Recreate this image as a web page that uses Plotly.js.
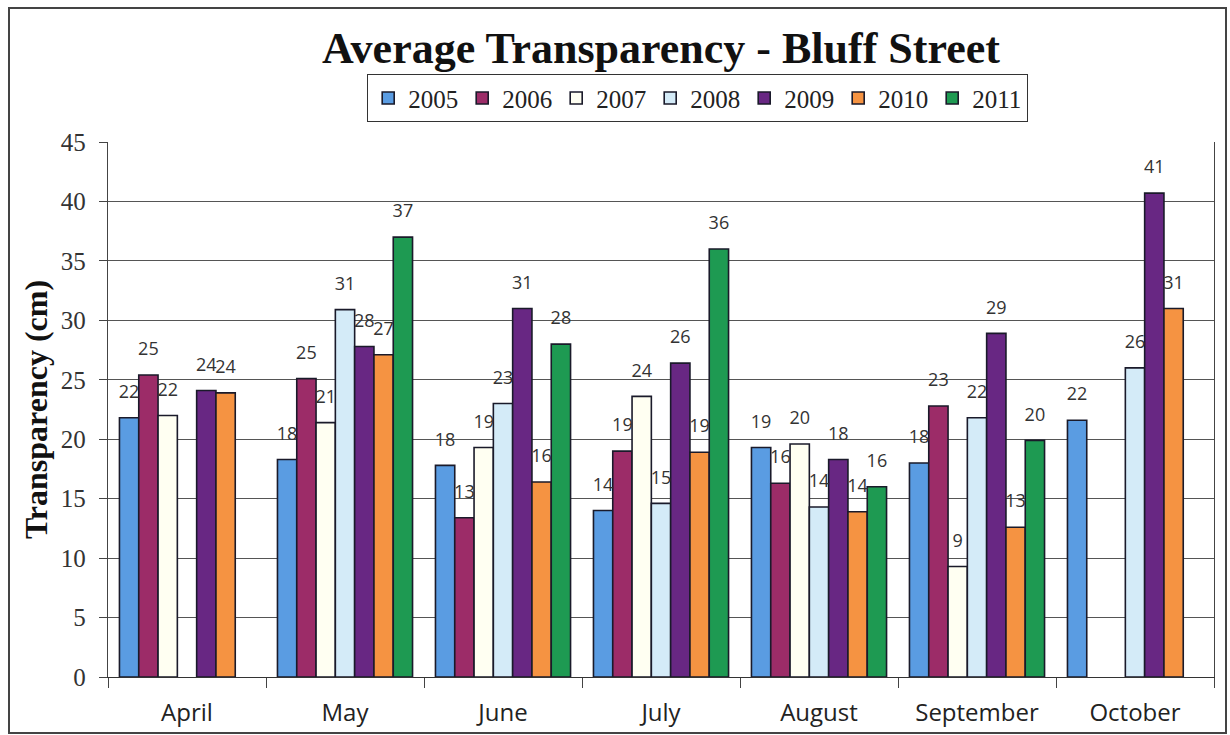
<!DOCTYPE html>
<html>
<head>
<meta charset="utf-8">
<script src="https://cdn.plot.ly/plotly-3.0.1.min.js"></script>
<style>
  html, body { margin: 0; padding: 0; background: #fff; }
  #wrap { position: relative; width: 1230px; height: 735px; }
  #frame { position: absolute; left: 8px; top: 7px; width: 1219px; height: 727px; border: 2px solid #444; box-sizing: border-box; pointer-events: none; z-index: 5; }
  #chart { width: 1230px; height: 735px; }
</style>
</head>
<body>
<div id="wrap">
  <div id="chart"></div>
  <div id="frame"></div>
</div>
<script>
const months = ["April", "May", "June", "July", "August", "September", "October"];
const years = ["2005", "2006", "2007", "2008", "2009", "2010", "2011"];
const v2005 = [21.8, 18.3, 17.8, 14.0, 19.3, 18.0, 21.6];
const v2006 = [25.4, 25.1, 13.4, 19.0, 16.3, 22.8, null];
const v2007 = [22.0, 21.4, 19.3, 23.6, 19.6, 9.3, null];
const v2008 = [null, 30.9, 23.0, 14.6, 14.3, 21.8, 26.0];
const v2009 = [24.1, 27.8, 31.0, 26.4, 18.3, 28.9, 40.7];
const v2010 = [23.9, 27.1, 16.4, 18.9, 13.9, 12.6, 31.0];
const v2011 = [null, 37.0, 28.0, 36.0, 16.0, 19.9, null];
const seriesValues = [v2005, v2006, v2007, v2008, v2009, v2010, v2011];
const colors = ["#5a9ce2", "#9c2c68", "#fffff2", "#d4ebf8", "#682783", "#f59342", "#1e9a52"];

const barTraces = years.map((yr, i) => ({
  type: "bar",
  name: yr,
  x: months,
  y: seriesValues[i],
  offsetgroup: yr,
  marker: { color: colors[i], line: { color: "#1a1a2a", width: 1.6 } },
  hoverinfo: "x+y+name"
}));

const labelTraces = years.map((yr, i) => ({
  type: "scatter",
  mode: "markers+text",
  name: yr + " labels",
  showlegend: false,
  x: months,
  y: seriesValues[i],
  offsetgroup: yr,
  marker: { size: 23, color: "rgba(0,0,0,0)" },
  texttemplate: "%{y:.0f}",
  textposition: "top center",
  cliponaxis: false,
  textfont: { family: "Open Sans, sans-serif", size: 18, color: "#333" },
  hoverinfo: "skip"
}));

const layout = {
  width: 1230,
  height: 735,
  margin: { l: 108, r: 16, t: 142, b: 58 },
  paper_bgcolor: "#fff",
  plot_bgcolor: "#fff",
  barmode: "group",
  bargap: 0.145,
  bargroupgap: 0,
  scattermode: "group",
  scattergap: 0.145,
  title: {
    text: "<b>Average Transparency - Bluff Street</b>",
    font: { family: "Liberation Serif, serif", size: 44, color: "#111" },
    x: 0.5, xref: "paper", xanchor: "center",
    y: 0.935, yanchor: "middle"
  },
  legend: {
    orientation: "h",
    x: 0.533, xanchor: "center",
    y: 1.127, yanchor: "top",
    bordercolor: "#333", borderwidth: 1.2,
    bgcolor: "#fff",
    font: { family: "Liberation Serif, serif", size: 25, color: "#222" },
    itemwidth: 30,
    entrywidth: 49,
    entrywidthmode: "pixels",
    traceorder: "normal"
  },
  xaxis: {
    type: "category",
    tickson: "boundaries",
    ticks: "outside", ticklen: 10, tickcolor: "#444",
    showline: true, linecolor: "#333", linewidth: 1.2,
    mirror: false,
    ticklabelstandoff: 14,
    tickfont: { family: "Open Sans, sans-serif", size: 24, color: "#222" },
    showgrid: false
  },
  yaxis: {
    range: [0, 45],
    dtick: 5,
    ticks: "outside", ticklen: 8, tickcolor: "#444",
    showline: true, linecolor: "#444", linewidth: 1.2,
    mirror: true,
    gridcolor: "#555", gridwidth: 1,
    zeroline: false,
    ticklabelstandoff: 8,
    tickfont: { family: "Liberation Serif, serif", size: 25, color: "#333" },
    title: {
      text: "<b>Transparency (cm)</b>",
      font: { family: "Liberation Serif, serif", size: 32, color: "#111" },
      standoff: 3
    }
  },
  showlegend: true
};

Plotly.newPlot("chart", barTraces.concat(labelTraces), layout, { displayModeBar: false, staticPlot: true });
</script>
</body>
</html>
